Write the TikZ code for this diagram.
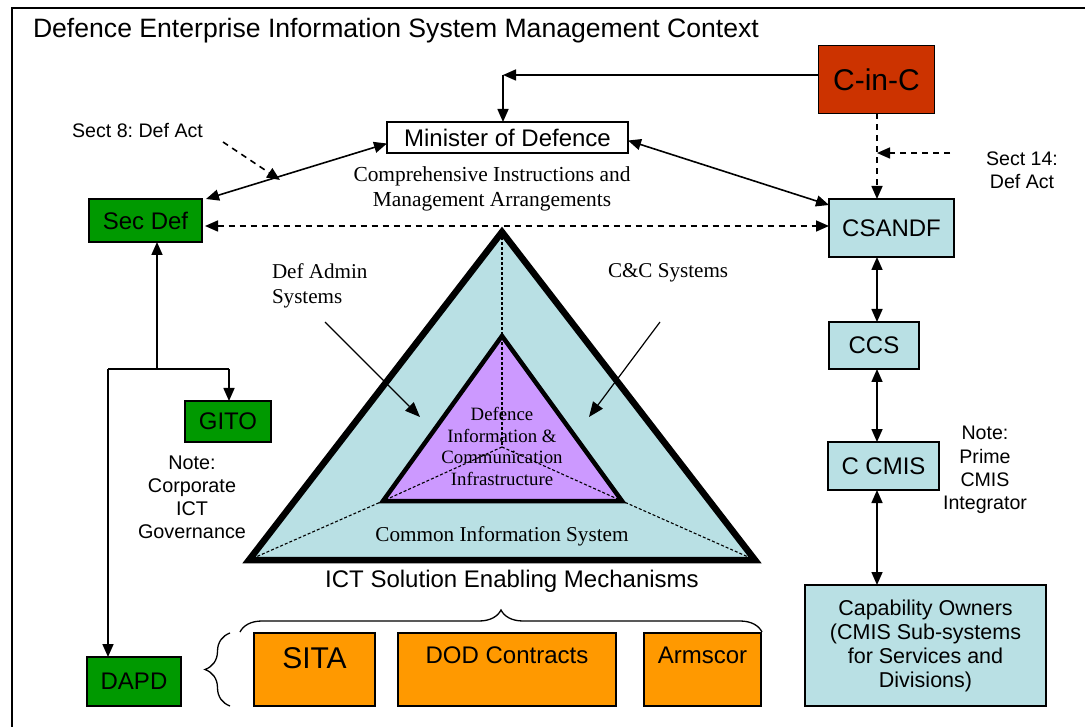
\documentclass[tikz,border=0pt]{standalone}
\usepackage{fontspec}
\setmainfont{Liberation Serif}
\newfontfamily\arialf{Liberation Sans}
\usetikzlibrary{arrows.meta,decorations.pathreplacing,calc}
\definecolor{dgreen}{RGB}{0,153,0}
\definecolor{cincred}{RGB}{204,51,0}
\definecolor{lblue}{RGB}{185,224,228}
\definecolor{lpurple}{RGB}{204,153,255}
\definecolor{orng}{RGB}{255,153,0}
\frenchspacing
\begin{document}
\begin{tikzpicture}[x=1pt,y=-1pt,
  every node/.style={inner sep=0pt,outer sep=0pt},
  box/.style={draw=black,line width=1.4pt,align=center,font=\arialf\fontsize{24}{28}\selectfont},
  sans/.style 2 args={align=center,font=\arialf\fontsize{#1}{#2}\selectfont},
  serif/.style={align=center,font=\fontsize{21.4}{25}\selectfont},
  arr/.style={line width=1.6pt,-{Triangle[length=13pt,width=11pt]}},
  darr/.style={line width=1.6pt,{Triangle[length=13pt,width=11pt]}-{Triangle[length=13pt,width=11pt]}},
  thinarr/.style={line width=1.2pt,-{Triangle[length=15pt,width=12pt]}},
  dashline/.style={dash pattern=on 6pt off 5pt},
  finedash/.style={line width=1.1pt,dash pattern=on 3pt off 2pt},
  bracestyle/.style={line width=1.3pt,decorate},
]
\useasboundingbox (0,0) rectangle (1085,727);
\fill[white] (0,0) rectangle (1085,727);
% frame
\draw[line width=1.8pt] (12,770) -- (12,8) -- (1110,8);

% title
\node[anchor=west,font=\arialf\fontsize{26.6}{31}\selectfont] (title) at (33,31) {Defence Enterprise Information System Management Context};

% triangle
\coordinate (oA) at (502,232);
\coordinate (oL) at (249,560);
\coordinate (oR) at (755,560);
\coordinate (iA) at (502,336);
\coordinate (iL) at (383,501);
\coordinate (iR) at (622,501);
\coordinate (ctr) at (502,447);
\draw[line width=6.5pt,fill=lblue] (oA) -- (oL) -- (oR) -- cycle;
\draw[line width=4.5pt,fill=lpurple] (iA) -- (iL) -- (iR) -- cycle;
\draw[finedash] (oA) -- (ctr);
\draw[finedash] (ctr) -- (iL) -- (oL);
\draw[finedash] (ctr) -- (iR) -- (oR);
\node[align=center,font=\fontsize{18.8}{21.5}\selectfont] (dici) at (502,446.5) {Defence\\Information \&\\Communication\\Infrastructure};
\node[font=\fontsize{21.2}{25}\selectfont] (cis) at (502,536) {Common Information System};

% labels around triangle
\node[anchor=west,align=left,font=\fontsize{21.1}{25}\selectfont] (defadmin) at (272,285.5) {Def Admin\\Systems};
\node[anchor=west,font=\fontsize{21.1}{25}\selectfont] (ccsys) at (608,273) {C\&C Systems};
\coordinate (da1) at (325,322);
\coordinate (da2) at (420,417);
\coordinate (cc1) at (660,322);
\coordinate (cc2) at (589,417);
\draw[thinarr] (da1) -- (da2);
\draw[thinarr] (cc1) -- (cc2);

\node[sans={24}{28}] (ict) at (512,581) {ICT Solution Enabling Mechanisms};

% boxes
\node[box,fill=cincred,minimum width=116pt,minimum height=68pt,font=\arialf\fontsize{30}{34}\selectfont] (cinc) at (876.5,79.5) {C-in-C};
\node[box,fill=white,minimum width=241pt,minimum height=31pt] (mod) at (507.5,137.5) {Minister of Defence};
\node[box,fill=dgreen,minimum width=113pt,minimum height=43pt] (secdef) at (145.5,220.5) {Sec Def};
\node[box,fill=lblue,minimum width=125pt,minimum height=58pt] (csandf) at (891.5,228) {CSANDF};
\node[box,fill=lblue,minimum width=90pt,minimum height=47pt] (ccs) at (874,345.5) {CCS};
\node[box,fill=lblue,minimum width=111pt,minimum height=48pt] (ccmis) at (883.5,466) {C CMIS};
\node[box,fill=lblue,minimum width=241pt,minimum height=121pt,font=\arialf\fontsize{21.5}{24}\selectfont] (capown) at (925.5,645.5) {Capability Owners\\(CMIS Sub-systems\\for Services and\\Divisions)};
\node[box,fill=dgreen,minimum width=86pt,minimum height=41pt] (gito) at (228,421.5) {GITO};
\node[box,fill=dgreen,minimum width=94pt,minimum height=49pt] (dapd) at (134,681.5) {DAPD};
\node[box,fill=orng,minimum width=121pt,minimum height=73pt] (sita) at (314.5,669.5) {};
\node[box,fill=orng,minimum width=218pt,minimum height=73pt] (dod) at (507,669.5) {};
\node[box,fill=orng,minimum width=117pt,minimum height=73pt] (armscor) at (702.5,669.5) {};
\node[sans={30}{34}] (sitat) at ($(sita.north)+(0,25)$) {SITA};
\node[sans={24}{28}] (dodt) at ($(dod.north)+(0,22)$) {DOD Contracts};
\node[sans={24}{28}] (armscort) at ($(armscor.north)+(0,22)$) {Armscor};

% text notes
\node[serif] (cima) at (492,188.5) {Comprehensive Instructions and\\Management Arrangements};
\node[sans={19.6}{23}] (sect8) at (137.5,131) {Sect 8: Def Act};
\node[sans={19.6}{23}] (sect14) at (1022,170.5) {Sect 14:\\Def Act};
\node[sans={19.6}{23.3}] (noteprime) at (985,470) {Note:\\Prime\\CMIS\\Integrator};
\node[sans={19.8}{23}] (notecorp) at (192,497.5) {Note:\\Corporate\\ICT\\Governance};

% connectors top
\coordinate (corner) at (503,75);
\draw[arr] (cinc.west |- corner) -- (corner);
\draw[arr] (corner) -- (corner |- mod.north);
\draw[darr] ($(secdef.north east)+(4,0)$) -- ($(mod.west)+(0,6)$);
\draw[darr] ($(mod.east)+(0,3)$) -- ($(csandf.north west)+(0,6)$);
\coordinate (hd) at ($(secdef.east)+(3,5.5)$);
\draw[darr,dashline] (hd) -- (csandf.west |- hd);
\coordinate (s8a) at (223,142);
\coordinate (s8b) at (280,180);
\draw[arr,dashline] (s8a) -- (s8b);

% right column
\coordinate (colx) at (877,0);
\draw[arr,dashline] (cinc.south -| colx) -- (csandf.north -| colx);
\coordinate (s14a) at (950,153);
\draw[arr,dashline] (s14a) -- (s14a -| colx);
\draw[darr] (csandf.south -| colx) -- (ccs.north -| colx);
\draw[darr] (ccs.south -| colx) -- (ccmis.north -| colx);
\draw[darr] (ccmis.south -| colx) -- (capown.north -| colx);

% left branching
\coordinate (lv) at (157,369);
\coordinate (lL) at (108,369);
\coordinate (lR) at (229,369);
\draw[arr] (lv) -- (lv |- secdef.south);
\draw[line width=1.6pt] (lL) -- (lR);
\draw[arr] (lR) -- (lR |- gito.north);
\draw[arr] (lL) -- (lL |- dapd.north);

% braces
\draw[bracestyle,decoration={brace,amplitude=22pt}] (240,632) -- (762,632);
\draw[bracestyle,decoration={brace,amplitude=25pt}] (230,706) -- (230,633);
\end{tikzpicture}
\end{document}
